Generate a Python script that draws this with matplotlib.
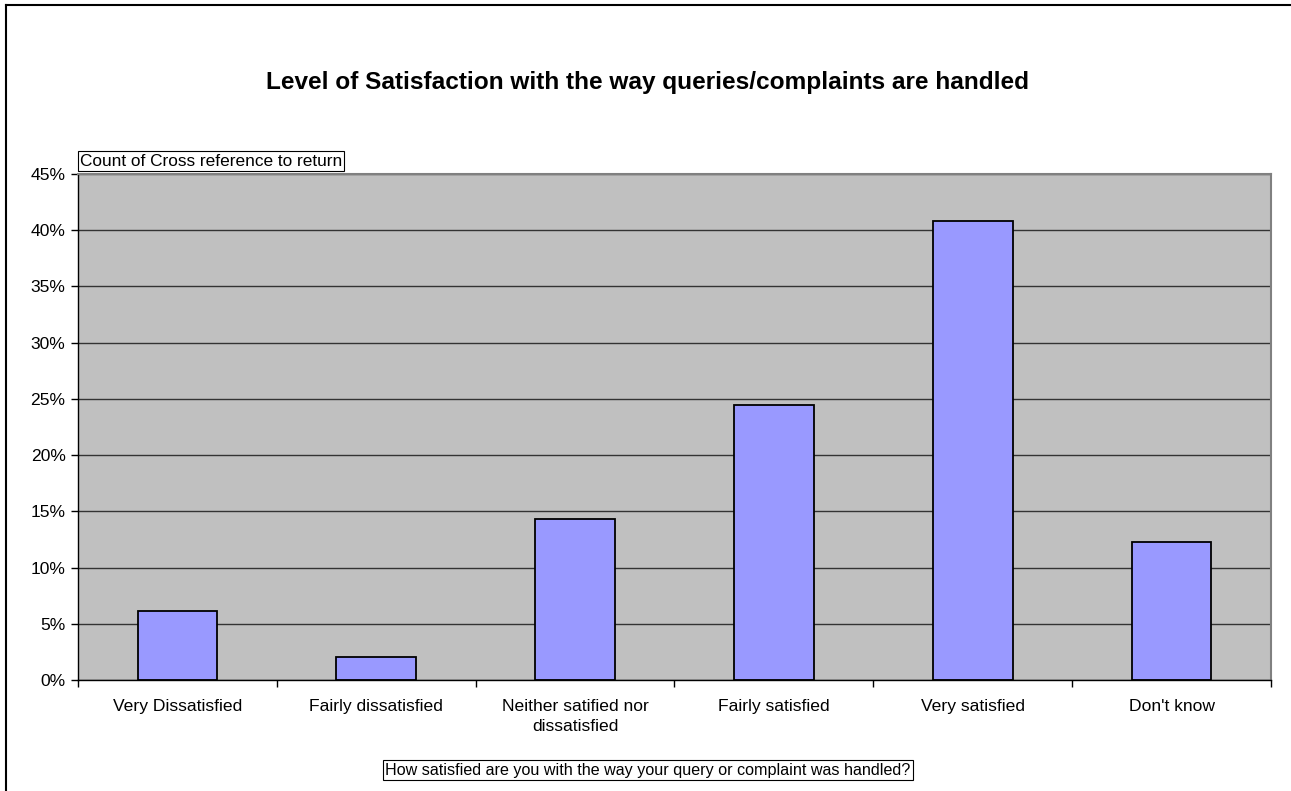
import matplotlib
matplotlib.use("Agg")
import matplotlib.pyplot as plt
from matplotlib.lines import Line2D
from matplotlib.ticker import FixedLocator, NullFormatter, FuncFormatter

plt.rcParams['font.family'] = ['Liberation Sans', 'DejaVu Sans']

categories = ["Very Dissatisfied", "Fairly dissatisfied", "Neither satified nor\ndissatisfied",
              "Fairly satisfied", "Very satisfied", "Don't know"]
values = [6.12, 2.04, 14.29, 24.49, 40.82, 12.24]
yticks = [0, 5, 10, 15, 20, 25, 30, 35, 40, 45]
title = "Level of Satisfaction with the way queries/complaints are handled"
field_label = "Count of Cross reference to return"
xlabel = "How satisfied are you with the way your query or complaint was handled?"

W, H = 1291, 791
fig = plt.figure(figsize=(W / 100, H / 100), dpi=100)
fig.patch.set_facecolor("white")

# outer chart frame
fig.add_artist(Line2D([6 / W, 6 / W], [0, 1 - 5 / H], color="black", lw=1.5, transform=fig.transFigure))
fig.add_artist(Line2D([6 / W, 1], [1 - 5 / H, 1 - 5 / H], color="black", lw=1.5, transform=fig.transFigure))

left, right, top, bottom = 78, 1271, 174, 680
ax = fig.add_axes([left / W, 1 - bottom / H, (right - left) / W, (bottom - top) / H])
ax.set_facecolor("#C0C0C0")

x = list(range(len(categories)))
ax.bar(x, values, width=0.4, color="#9999FF", edgecolor="black", linewidth=1.3, zorder=3)

ax.set_xlim(-0.5, len(categories) - 0.5)
ax.set_ylim(0, 45)
ax.set_yticks(yticks)
ax.yaxis.set_major_formatter(FuncFormatter(lambda v, p: f"{int(v)}%"))
ax.grid(axis="y", color="#333333", linewidth=1.0, zorder=1)

ax.set_xticks(x)
ax.set_xticklabels(categories, fontsize=12.6)
ax.tick_params(axis="x", which="major", length=0, pad=14)
ax.xaxis.set_minor_locator(FixedLocator([i - 0.5 for i in range(len(categories) + 1)]))
ax.xaxis.set_minor_formatter(NullFormatter())
ax.tick_params(axis="x", which="minor", length=5, width=1, color="black", direction="out")
ax.tick_params(axis="y", length=5, width=1, color="black", direction="out", labelsize=12.6, pad=4)
for lab in ax.get_xticklabels():
    lab.set_linespacing(1.35)

for s in ["top", "right"]:
    ax.spines[s].set_color("#808080")
    ax.spines[s].set_linewidth(1.5)
for s in ["left", "bottom"]:
    ax.spines[s].set_color("black")
    ax.spines[s].set_linewidth(1.0)
ax.spines["bottom"].set_zorder(4)

fig.text(647 / W, 1 - 83 / H, title, ha="center", va="center", fontsize=17.6, fontweight="bold")

fig.text(80 / W, 1 - 161 / H, field_label, ha="left", va="center", fontsize=12.4,
         bbox=dict(boxstyle="square,pad=0.12", facecolor="white", edgecolor="black", linewidth=0.8))
fig.text(648 / W, 1 - 770 / H, xlabel, ha="center", va="center", fontsize=11.6,
         bbox=dict(boxstyle="square,pad=0.14", facecolor="white", edgecolor="black", linewidth=0.8))

fig.savefig("out.png", dpi=100, facecolor="white")
